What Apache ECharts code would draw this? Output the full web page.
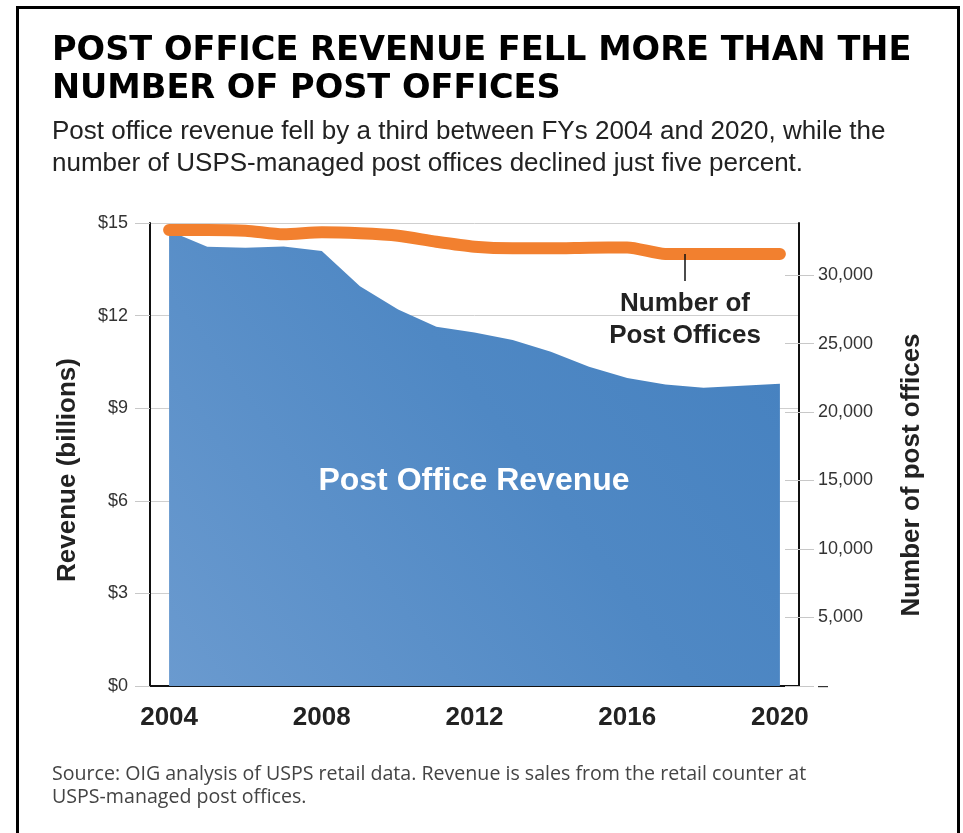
<!DOCTYPE html>
<html>
<head>
<meta charset="utf-8">
<script src="https://cdn.jsdelivr.net/npm/echarts@6/dist/echarts.min.js"></script>
<style>
  html, body { margin: 0; padding: 0; background: #fff; }
  #main { width: 963px; height: 833px; }
</style>
</head>
<body>
<div id="main"></div>
<script>
// fiscal years on the x axis
var years = ['2004', '2005', '2006', '2007', '2008', '2009', '2010', '2011', '2012',
  '2013', '2014', '2015', '2016', '2017', '2018', '2019', '2020'];
// post office revenue, $ billions (left axis)
var revenue = [14.75, 14.23, 14.2, 14.24, 14.09, 12.95, 12.2, 11.64, 11.45,
  11.21, 10.83, 10.34, 9.98, 9.77, 9.66, 9.73, 9.79];
// number of USPS-managed post offices (right axis)
var offices = [33290, 33290, 33240, 32970, 33120, 33050, 32870, 32430, 32070,
  31950, 31950, 32000, 32020, 31540, 31540, 31540, 31540];
// tick values
var revenueTicks = [0, 3, 6, 9, 12, 15];
var officeTicks = [0, 5000, 10000, 15000, 20000, 25000, 30000];

var myChart = echarts.init(document.getElementById('main'));

var rightAxisMax = 33800;

var option = {
  backgroundColor: '#fff',
  animation: false,
  grid: { left: 150, right: 164, top: 223, bottom: 147 },
  xAxis: {
    type: 'category',
    data: years,
    boundaryGap: true,
    axisLine: { show: true, lineStyle: { color: '#111', width: 2 } },
    axisTick: { show: false },
    axisLabel: {
      interval: 3,
      margin: 19,
      color: '#222',
      fontFamily: 'Liberation Sans',
      fontWeight: 'bold',
      fontSize: 26
    },
    splitLine: { show: false }
  },
  yAxis: [
    {
      type: 'value',
      position: 'left',
      min: 0,
      max: 15,
      interval: 3,
      axisLine: { show: true, lineStyle: { color: '#111', width: 2 } },
      axisTick: { show: true, length: 15, lineStyle: { color: '#c8c8c8' } },
      axisLabel: {
        margin: 22,
        color: '#333',
        fontFamily: 'Liberation Sans',
        fontSize: 18,
        customValues: revenueTicks,
        formatter: function (v) { return '$' + v; }
      },
      splitLine: { show: true, lineStyle: { color: '#cfcfcf', width: 1 } }
    },
    {
      type: 'value',
      position: 'right',
      min: 0,
      max: rightAxisMax,
      axisLine: { show: true, lineStyle: { color: '#111', width: 2 } },
      axisTick: { show: true, length: 15, customValues: officeTicks, lineStyle: { color: '#c8c8c8' } },
      axisLabel: {
        margin: 19,
        color: '#333',
        fontFamily: 'Liberation Sans',
        fontSize: 18,
        customValues: officeTicks,
        formatter: function (v) { return v === 0 ? '\u2013' : v.toLocaleString('en-US'); }
      },
      splitLine: { show: false }
    },
    {
      // inner half of the right-hand ticks
      type: 'value',
      position: 'right',
      min: 0,
      max: rightAxisMax,
      axisLine: { show: false },
      axisTick: { show: true, inside: true, length: 14, customValues: officeTicks, lineStyle: { color: '#c8c8c8' } },
      axisLabel: { show: false },
      splitLine: { show: false }
    }
  ],
  series: [
    {
      name: 'Post Office Revenue',
      type: 'line',
      yAxisIndex: 0,
      data: revenue,
      showSymbol: false,
      lineStyle: { width: 0 },
      areaStyle: {
        opacity: 1,
        color: new echarts.graphic.LinearGradient(0, 1, 1, 0, [
          { offset: 0, color: '#6a9acf' },
          { offset: 0.55, color: '#4f88c4' },
          { offset: 1, color: '#4480bf' }
        ])
      },
      z: 2
    },
    {
      name: 'Number of Post Offices',
      type: 'line',
      yAxisIndex: 1,
      data: offices,
      showSymbol: false,
      smooth: 0.25,
      lineStyle: { color: '#f2802f', width: 12, cap: 'round', join: 'round' },
      z: 3
    }
  ],
  graphic: [
    {
      type: 'rect',
      shape: { x: 17.5, y: 7.5, width: 941, height: 900 },
      style: { fill: 'none', stroke: '#000', lineWidth: 3 },
      silent: true
    },
    {
      type: 'text',
      style: {
        x: 52, y: 70.5,
        text: 'POST OFFICE REVENUE FELL MORE THAN THE\nNUMBER OF POST OFFICES',
        font: 'bold 33.6px "DejaVu Sans"',
        lineHeight: 38,
        fill: '#000',
        align: 'left',
        verticalAlign: 'middle'
      }
    },
    {
      type: 'text',
      style: {
        x: 52, y: 148,
        text: 'Post office revenue fell by a third between FYs 2004 and 2020, while the\nnumber of USPS-managed post offices declined just five percent.',
        font: '26px "Liberation Sans"',
        lineHeight: 32,
        fill: '#222',
        align: 'left',
        verticalAlign: 'middle'
      }
    },
    {
      type: 'text',
      style: {
        x: 52, y: 786,
        text: 'Source: OIG analysis of USPS retail data. Revenue is sales from the retail counter at\nUSPS-managed post offices.',
        font: '19.6px "Open Sans"',
        lineHeight: 23,
        fill: '#444',
        align: 'left',
        verticalAlign: 'middle'
      }
    },
    {
      type: 'text',
      rotation: Math.PI / 2,
      x: 68, y: 470,
      style: {
        text: 'Revenue (billions)',
        font: 'bold 26px "Liberation Sans"',
        fill: '#222',
        align: 'center',
        verticalAlign: 'middle'
      }
    },
    {
      type: 'text',
      rotation: Math.PI / 2,
      x: 912, y: 475,
      style: {
        text: 'Number of post offices',
        font: 'bold 26px "Liberation Sans"',
        fill: '#222',
        align: 'center',
        verticalAlign: 'middle'
      }
    },
    {
      type: 'text',
      z: 10,
      style: {
        x: 474, y: 481,
        text: 'Post Office Revenue',
        font: 'bold 32px "Liberation Sans"',
        fill: '#fff',
        align: 'center',
        verticalAlign: 'middle'
      }
    },
    {
      type: 'text',
      z: 10,
      style: {
        x: 685, y: 320,
        text: 'Number of\nPost Offices',
        font: 'bold 26px "Liberation Sans"',
        lineHeight: 32,
        fill: '#222',
        align: 'center',
        verticalAlign: 'middle'
      }
    },
    {
      type: 'line',
      z: 10,
      shape: { x1: 685, y1: 254, x2: 685, y2: 281 },
      style: { stroke: '#111', lineWidth: 1.5 }
    }
  ]
};

myChart.setOption(option);
</script>
</body>
</html>
